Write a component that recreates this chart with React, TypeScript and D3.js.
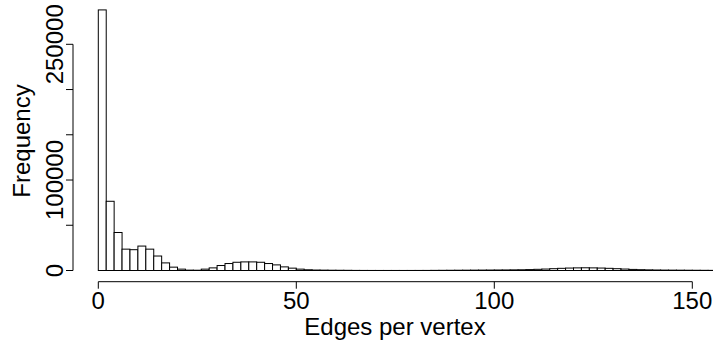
import React from 'react';
import * as d3 from 'd3';

// histogram of edges per vertex, bins of width 2 starting at 0
const binWidth = 2;
const counts = [
  288000, 76500, 42000, 23600, 23000, 27000, 23600, 16000, 8400, 3700,
  1500, 400, 300, 1500, 2900, 5500, 7700, 9100, 9500, 9500,
  9100, 7700, 6200, 4000, 2600, 1500, 800, 500, 400, 300,
  250, 200, 100, 80, 60, 50, 50, 50, 50, 60,
  70, 90, 150, 200, 250, 300, 350, 400, 450, 500,
  550, 600, 700, 800, 1000, 1300, 1600, 2000, 2400, 2700,
  2900, 3000, 2900, 2700, 2400, 2000, 1600, 1200, 900, 700,
  550, 450, 400, 350, 300, 250, 200, 150, 100, 80,
];

const xTicks = [0, 50, 100, 150];
const yTicks = [0, 50000, 100000, 150000, 200000, 250000];
const yTickLabels = ['0', '', '100000', '', '', '250000'];

const xLabel = 'Edges per vertex';
const yLabel = 'Frequency';

const width = 713;
const height = 344;
const font = '"Liberation Sans", Arial, Helvetica, sans-serif';

export default function App() {
  // plot region: left 73, bottom 281.7
  const x = d3.scaleLinear().domain([0, 150]).range([98.3, 692.3]);
  const y = d3.scaleLinear().domain([0, 250000]).range([270.5, 44.3]);
  const axisY = 281.7;
  const axisX = 73;
  const tick = 7;

  const bins = counts.map((c, i) => ({ x0: i * binWidth, x1: (i + 1) * binWidth, count: c }));

  return (
    <svg
      width={width}
      height={height}
      style={{ position: 'fixed', left: 0, top: 0, background: '#fff' }}
      fontFamily={font}
    >
      <defs>
        <clipPath id="plot">
          <rect x={axisX} y={0} width={width - axisX} height={axisY} />
        </clipPath>
      </defs>

      {/* bars */}
      <g clipPath="url(#plot)">
        {bins.map((b, i) => (
          <rect
            key={i}
            x={x(b.x0)}
            y={y(b.count)}
            width={x(b.x1) - x(b.x0)}
            height={y(0) - y(b.count)}
            fill="#fff"
            stroke="#000"
            strokeWidth={1}
          />
        ))}
      </g>

      {/* x axis */}
      <line x1={x(xTicks[0])} x2={x(xTicks[xTicks.length - 1])} y1={axisY} y2={axisY} stroke="#000" />
      {xTicks.map(t => (
        <g key={t}>
          <line x1={x(t)} x2={x(t)} y1={axisY} y2={axisY + tick} stroke="#000" />
          <text x={x(t)} y={309} textAnchor="middle" fontSize={24}>{t}</text>
        </g>
      ))}
      <text x={395} y={335} textAnchor="middle" fontSize={24}>{xLabel}</text>

      {/* y axis */}
      <line x1={axisX} x2={axisX} y1={y(yTicks[0])} y2={y(yTicks[yTicks.length - 1])} stroke="#000" />
      {yTicks.map((t, i) => (
        <g key={t}>
          <line x1={axisX - tick} x2={axisX} y1={y(t)} y2={y(t)} stroke="#000" />
          {yTickLabels[i] && (
            <text
              transform={`translate(63, ${y(t)}) rotate(-90)`}
              textAnchor="middle"
              fontSize={24}
            >
              {yTickLabels[i]}
            </text>
          )}
        </g>
      ))}
      <text transform="translate(29.5, 141) rotate(-90)" textAnchor="middle" fontSize={24}>
        {yLabel}
      </text>
    </svg>
  );
}
